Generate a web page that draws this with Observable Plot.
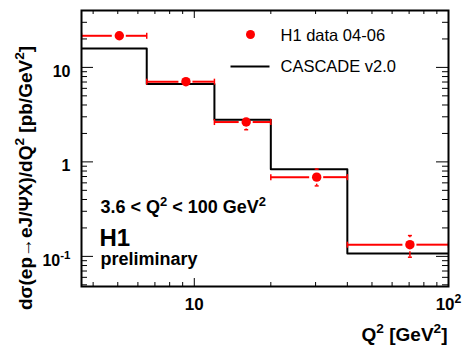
<!DOCTYPE html>
<html>
<head>
<meta charset="utf-8">
<script src="https://cdn.jsdelivr.net/npm/d3@7"></script>
<script src="https://cdn.jsdelivr.net/npm/@observablehq/plot@0.6"></script>
<style>
  html, body { margin: 0; padding: 0; background: #fff; }
</style>
</head>
<body>
<div id="chart"></div>
<script>
// ---- data ----
const binLo = [3.6, 6.5, 12, 20, 40];
const binHi = [6.5, 12, 20, 40, 100];
const h1X = [5.07, 9.27, 16.0, 30.3, 70.5];
const h1Y = [21.6, 7.06, 2.64, 0.689, 0.133];
const h1Up = [23.0, 7.5, 3.05, 0.84, 0.166];
const h1Dn = [20.2, 6.6, 2.19, 0.557, 0.098];
const cascadeEdges = [3.6, 6.5, 12, 20, 40, 100];
const cascadeY = [15.8, 6.66, 2.80, 0.837, 0.107];

const xMajor = [10, 100];
const xMinor = [4, 5, 6, 7, 8, 9, 20, 30, 40, 50, 60, 70, 80, 90];
const yMajor = [0.1, 1, 10];
const yMinor = [0.05, 0.06, 0.07, 0.08, 0.09, 0.2, 0.3, 0.4, 0.5, 0.6, 0.7, 0.8, 0.9, 2, 3, 4, 5, 6, 7, 8, 9, 20, 30, 40];
const xTickLabels = ["10", "10^{2}"];
const yTickLabels = ["10^{-1}", "1", "10"];

const legendLabels = ["H1 data 04-06", "CASCADE v2.0"];
const xTitle = "Q^{2} [GeV^{2}]";
const yTitle = "dσ(ep→eJ/ΨX)/dQ^{2} [pb/GeV^{2}]";
const rangeText = "3.6 < Q^{2} < 100 GeV^{2}";
const expText = "H1";
const prelimText = "preliminary";

// ---- layout ----
const W = 473, H = 361;
const mL = 81, mR = 25, mT = 10, mB = 75;
const innerW = W - mL - mR, innerH = H - mT - mB;
const xDomain = [3.6, 100], yDomain = [0.048, 40];
const gapPx = 7;
const gx = Math.pow(xDomain[1] / xDomain[0], gapPx / innerW);
const gy = Math.pow(yDomain[1] / yDomain[0], gapPx / innerH);

const pts = h1X.map((x, i) => ({x, y: h1Y[i], lo: binLo[i], hi: binHi[i], up: h1Up[i], dn: h1Dn[i]}));
const hist = cascadeEdges.map((e, i) => ({x: e, y: cascadeY[Math.min(i, cascadeY.length - 1)]}));

const vCap = {draw(ctx) { ctx.moveTo(0, -3); ctx.lineTo(0, 3); }};
const hCap = {draw(ctx) { ctx.moveTo(-2, 0); ctx.lineTo(2, 0); }};
const legLine = {draw(ctx) { ctx.moveTo(-19.5, 0); ctx.lineTo(19.5, 0); }};

const txt = {fill: "black", lineAnchor: "middle"};
const bold = {...txt, fontWeight: "bold"};
const upOk = pts.filter(d => d.up > d.y * gy);
const dnOk = pts.filter(d => d.dn < d.y / gy);

const chart = Plot.plot({
  width: W, height: H,
  marginLeft: mL, marginRight: mR, marginTop: mT, marginBottom: mB,
  x: {type: "log", domain: xDomain, axis: null},
  y: {type: "log", domain: yDomain, axis: null},
  style: {fontFamily: "'Liberation Sans', Arial, Helvetica, sans-serif", background: "white", color: "black"},
  marks: [
    // ticks (inside the frame)
    Plot.ruleX(xMajor, {x: d => d, insetTop: innerH - 8, stroke: "black"}),
    Plot.ruleX(xMajor, {x: d => d, insetBottom: innerH - 8, stroke: "black"}),
    Plot.ruleX(xMinor, {x: d => d, insetTop: innerH - 4, stroke: "black"}),
    Plot.ruleX(xMinor, {x: d => d, insetBottom: innerH - 4, stroke: "black"}),
    Plot.ruleY(yMajor, {y: d => d, insetRight: innerW - 12, stroke: "black"}),
    Plot.ruleY(yMajor, {y: d => d, insetLeft: innerW - 12, stroke: "black"}),
    Plot.ruleY(yMinor, {y: d => d, insetRight: innerW - 6, stroke: "black"}),
    Plot.ruleY(yMinor, {y: d => d, insetLeft: innerW - 6, stroke: "black"}),
    // CASCADE histogram
    Plot.line(hist, {x: "x", y: "y", curve: "step-after", stroke: "black", strokeWidth: 2, clip: true}),
    // H1 horizontal bars (with gap around marker)
    Plot.ruleY(pts, {y: "y", x1: "lo", x2: d => d.x / gx, stroke: "red", strokeWidth: 2}),
    Plot.ruleY(pts, {y: "y", x1: d => d.x * gx, x2: "hi", stroke: "red", strokeWidth: 2}),
    Plot.dot(pts, {x: "lo", y: "y", symbol: vCap, fill: "none", stroke: "red", strokeWidth: 1.5, clip: true}),
    Plot.dot(pts, {x: "hi", y: "y", symbol: vCap, fill: "none", stroke: "red", strokeWidth: 1.5, clip: true}),
    // vertical bars
    Plot.ruleX(upOk, {x: "x", y1: d => d.y * gy, y2: "up", stroke: "red", strokeWidth: 1.5}),
    Plot.ruleX(dnOk, {x: "x", y1: d => d.y / gy, y2: "dn", stroke: "red", strokeWidth: 1.5}),
    Plot.dot(upOk, {x: "x", y: "up", symbol: hCap, fill: "none", stroke: "red", strokeWidth: 1.5}),
    Plot.dot(dnOk, {x: "x", y: "dn", symbol: hCap, fill: "none", stroke: "red", strokeWidth: 1.5}),
    // markers
    Plot.dot(pts, {x: "x", y: "y", r: 4.7, fill: "red", stroke: "none"}),
    // frame
    Plot.frame({stroke: "black", strokeWidth: 2}),
    // legend
    Plot.dot([legendLabels[0]], {frameAnchor: "top-left", dx: 250 - mL, dy: 34 - mT, r: 4.5, fill: "red", stroke: "none"}),
    Plot.dot([legendLabels[1]], {frameAnchor: "top-left", dx: 249.5 - mL, dy: 66 - mT, symbol: legLine, fill: "none", stroke: "black", strokeWidth: 2}),
    Plot.text([legendLabels[0]], {text: d => d, frameAnchor: "top-left", dx: 280 - mL, dy: 35.5 - mT, textAnchor: "start", fontSize: 16.5, ...txt}),
    Plot.text([legendLabels[1]], {text: d => d, frameAnchor: "top-left", dx: 280 - mL, dy: 66.5 - mT, textAnchor: "start", fontSize: 16.5, ...txt}),
    // annotations
    Plot.text([rangeText], {text: d => d, frameAnchor: "top-left", dx: 100 - mL, dy: 207 - mT, textAnchor: "start", fontSize: 18, ...bold}),
    Plot.text([expText], {text: d => d, frameAnchor: "top-left", dx: 99 - mL, dy: 238 - mT, textAnchor: "start", fontSize: 24, ...bold}),
    Plot.text([prelimText], {text: d => d, frameAnchor: "top-left", dx: 100 - mL, dy: 259 - mT, textAnchor: "start", fontSize: 18, ...bold}),
    // axis labels
    Plot.text(xMajor, {x: d => d, text: (d, i) => xTickLabels[i], frameAnchor: "bottom", dy: 18, textAnchor: "middle", fontSize: 17, ...bold}),
    Plot.text(yMajor, {y: d => d, text: (d, i) => yTickLabels[i], frameAnchor: "left", dx: -11, dy: 4, textAnchor: "end", fontSize: 16, ...bold}),
    // axis titles
    Plot.text([xTitle], {text: d => d, frameAnchor: "bottom-right", dx: -1, dy: 48, textAnchor: "end", fontSize: 19, ...bold}),
    Plot.text([yTitle], {text: d => d, frameAnchor: "left", dx: 25 - mL, dy: 177.5 - (mT + innerH / 2), textAnchor: "middle", rotate: -90, fontSize: 19, ...bold})
  ]
});

// render ^{...} as real superscript tspans
chart.querySelectorAll("text").forEach(t => {
  const s = t.textContent;
  if (!s.includes("^{")) return;
  const fs = parseFloat(t.getAttribute("font-size") || t.closest("[font-size]")?.getAttribute("font-size") || 16);
  const parts = s.split(/(\^\{[^}]*\})/);
  t.textContent = "";
  let raised = false;
  const ns = "http://www.w3.org/2000/svg";
  for (const p of parts) {
    if (!p) continue;
    const ts = document.createElementNS(ns, "tspan");
    if (p.startsWith("^{")) {
      ts.textContent = p.slice(2, -1);
      ts.setAttribute("font-size", (fs * 0.72) + "px");
      ts.setAttribute("dy", (-0.42 * fs) + "px");
      raised = true;
    } else {
      ts.textContent = p;
      if (raised) { ts.setAttribute("dy", (0.42 * fs) + "px"); raised = false; }
    }
    t.appendChild(ts);
  }
});

document.getElementById("chart").appendChild(chart);
</script>
</body>
</html>
